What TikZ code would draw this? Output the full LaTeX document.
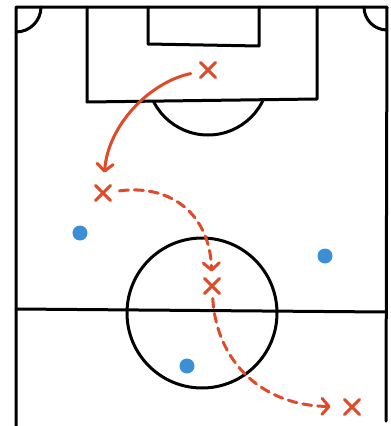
\documentclass[tikz,border=0pt]{standalone}
\usetikzlibrary{arrows.meta,shapes.misc}
\definecolor{fieldred}{HTML}{E04A28}
\definecolor{dotblue}{HTML}{3B8FD5}
\tikzset{
  pitch/.style={draw=black, line width=3pt, line cap=round, line join=round},
  xmark/.style={cross out, draw=fieldred, line width=3pt, line cap=round, minimum size=12pt, inner sep=0pt},
  player/.style={circle, fill=dotblue, minimum size=15pt, inner sep=0pt},
  run/.style={draw=fieldred, line width=3pt, line cap=round, -{Straight Barb[round,length=7pt,width=16pt]}},
  runpass/.style={run, dash pattern=on 9pt off 6pt},
}
\begin{document}
\begin{tikzpicture}[x=1pt,y=-1pt]
\useasboundingbox (0,0) rectangle (391,426);
% field outline
\draw[pitch] (16,426) -- (16,7) -- (387,7) -- (386,421);
% corner arcs
\draw[pitch] (16,32) arc[start angle=-90, end angle=0, radius=25pt];
\draw[pitch] (364,7) arc[start angle=180, end angle=270, radius=23pt];
% penalty box
\draw[pitch] (87,7) -- (87,102) -- (317,99) -- (317,7);
% goal box
\draw[pitch] (148,7) -- (148,44) -- (259,46) -- (259,7);
% penalty arc
\begin{scope}
\clip (0,100.5) rectangle (391,200);
\draw[pitch] (208,74) circle[radius=61pt];
\end{scope}
% halfway line
\draw[pitch] (16,309) -- (386,312);
% centre circle
\draw[pitch] (202,313) circle[radius=75pt];
% players
\node[player] (p1) at (80,233) {};
\node[player] (p2) at (325,256) {};
\node[player] (p3) at (187,366) {};
% marks
\node[xmark] (x1) at (208,70) {};
\node[xmark] (x2) at (103,193) {};
\node[xmark] (x3) at (212,286) {};
\node[xmark] (x4) at (352,407) {};
% runs
\draw[run, shorten <=10pt, shorten >=13pt] (x1) .. controls (150,82) and (108,125) .. (x2);
\draw[runpass, shorten <=9pt, shorten >=7pt] (x2) .. controls (172,184) and (210,215) .. (x3);
\draw[runpass, shorten <=5pt, shorten >=14pt] (x3) .. controls (216,355) and (255,405) .. (x4);
\end{tikzpicture}
\end{document}
